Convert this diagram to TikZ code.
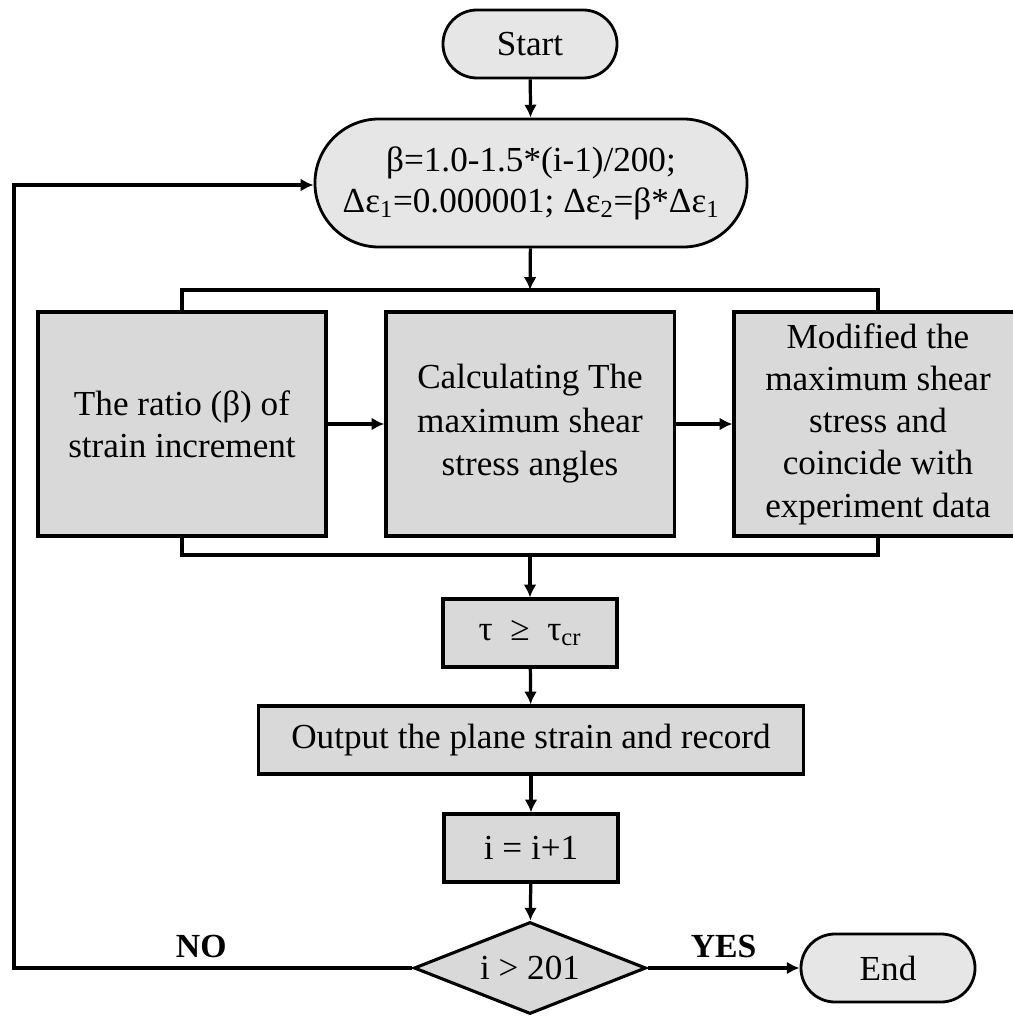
\documentclass[tikz,border=0pt]{standalone}
\usepackage{fontspec}
\setmainfont{Liberation Serif}
\usetikzlibrary{arrows.meta}
\usetikzlibrary{shapes.geometric}

\definecolor{boxgray}{HTML}{D9D9D9}
\definecolor{termgray}{HTML}{E6E6E6}

\begin{document}
\begin{tikzpicture}[
		x=0.025cm, y=-0.025cm,
		font=\fontsize{25}{30}\selectfont,
		arrow/.style={line width=2.3pt, -{Latex[length=3.2mm, width=3.2mm]}},
		link/.style={line width=2.3pt},
		terminal/.style={draw, line width=2pt, fill=termgray, rounded corners=0.85cm, minimum width=4.35cm, minimum height=1.7cm, inner sep=0pt, align=center},
		process/.style={draw, line width=2.2pt, fill=boxgray, inner sep=0pt, align=center},
		bigbox/.style={process, minimum width=7.2cm, minimum height=5.6cm},
		smallbox/.style={process, minimum width=4.35cm, minimum height=1.7cm},
		decision/.style={draw, line width=2.2pt, fill=boxgray, diamond, aspect=2.5, inner sep=0pt, minimum width=5.8cm, minimum height=2.3cm},
		answer/.style={font=\fontsize{24}{28}\selectfont\bfseries},
	]
	\useasboundingbox (0,0) rectangle (1012,1016);

	% start and settings
	\node[terminal] (start) at (530,44) {Start};
	\node[terminal, minimum width=10.8cm, minimum height=3.2cm, rounded corners=1.6cm, font=\fontsize{25}{29}\selectfont] (init) at (531,183)
		{β=1.0-1.5*(i-1)/200;\\Δε\textsubscript{1}=0.000001; Δε\textsubscript{2}=β*Δε\textsubscript{1}};

	% the three steps
	\node[bigbox] (ratio) at (182,424) {The ratio (β) of\\strain increment};
	\node[bigbox, font=\fontsize{25}{31}\selectfont] (angle) at (530,424) {Calculating The\\maximum shear\\stress angles};
	\node[bigbox, font=\fontsize{25}{30}\selectfont] (modify) at (878,424) {Modified the\\maximum shear\\stress and\\coincide with\\experiment data};

	\coordinate (topbar) at (530,290);
	\coordinate (botbar) at (530,555);

	% criterion and loop
	\node[smallbox] (crit) at (530,633) {τ\enspace ≥\enspace τ\textsubscript{cr}};
	\node[process, minimum width=13.6cm, minimum height=1.7cm] (output) at (531,740) {Output the plane strain and record};
	\node[smallbox] (incr) at (531,848) {i = i+1};
	\node[decision] (check) at (530,968) {i > 201};
	\node[terminal] (stop) at (888,968) {End};

	\coordinate (loopbot) at (14,968);
	\coordinate (looptop) at (14,185);

	\draw[arrow] (start) -- (init);
	\draw[arrow] (init) -- (topbar);
	\draw[link] (ratio.north) -- (ratio.north |- topbar) -- (modify.north |- topbar) -- (modify.north);
	\draw[link] (ratio.south) -- (ratio.south |- botbar) -- (modify.south |- botbar) -- (modify.south);
	\draw[arrow] (ratio) -- (angle);
	\draw[arrow] (angle) -- (modify);
	\draw[arrow] (botbar) -- (crit);
	\draw[arrow] (crit) -- (output);
	\draw[arrow] (output) -- (incr);
	\draw[arrow] (incr) -- (check);
	\draw[arrow] (check) -- node[answer, above=3pt] {YES} (stop);
	\draw[arrow] (check) -- node[answer, above=3pt, pos=0.53] {NO} (loopbot) -- (looptop) -- (init.west |- looptop);
\end{tikzpicture}
\end{document}
